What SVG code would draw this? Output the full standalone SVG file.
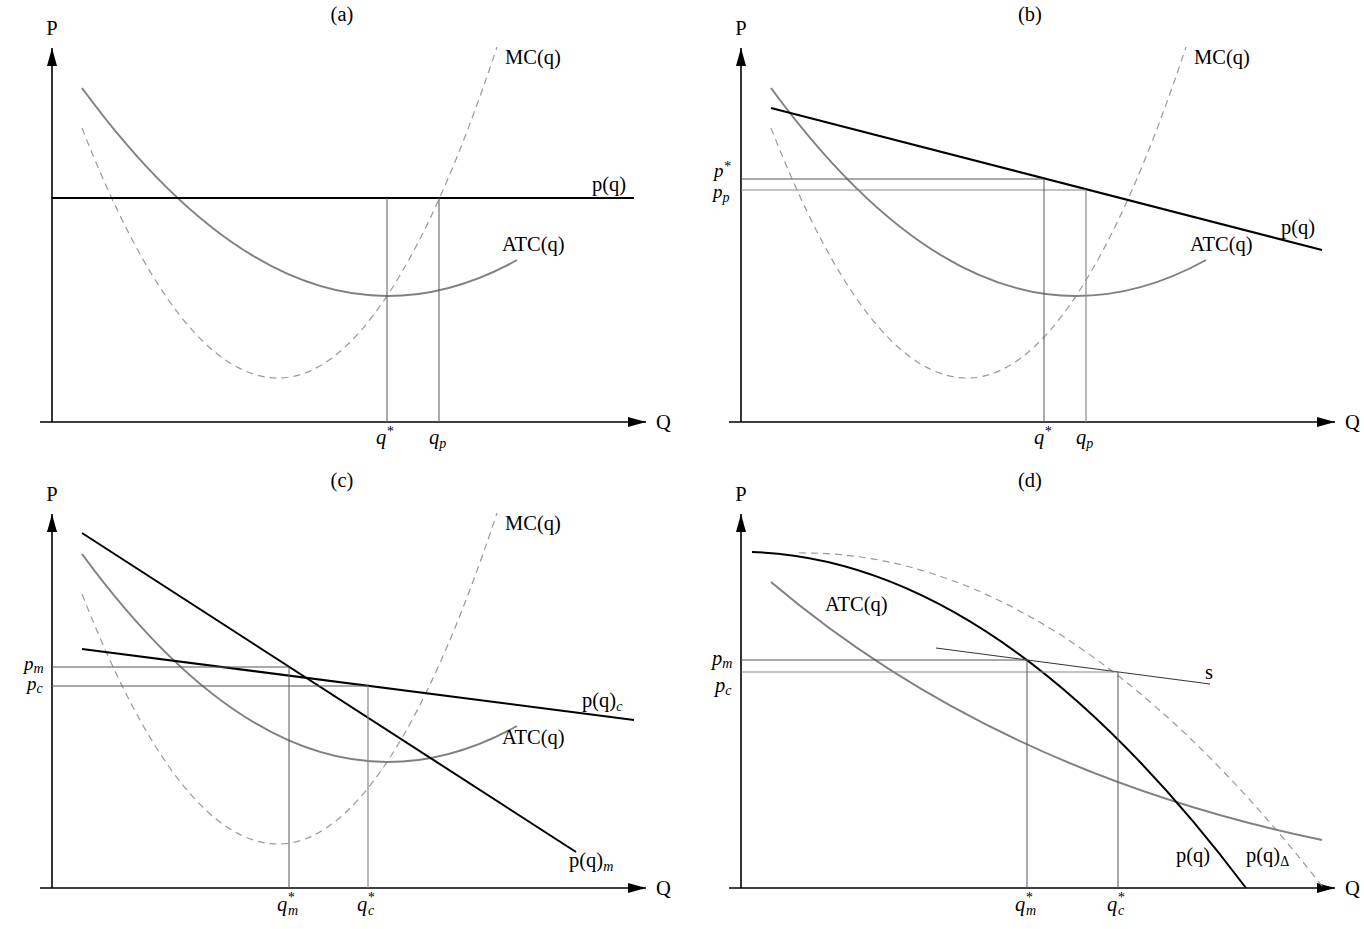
<svg xmlns="http://www.w3.org/2000/svg" width="1364" height="929" viewBox="0 0 1364 929">
<style>
text{font-family:"Liberation Serif","Times New Roman",serif;font-size:20.5px;fill:#000}
.m{font-style:italic}
.s{font-size:14px}
.pl{font-size:19px}
.ax{stroke:#000;stroke-width:1.6;fill:none}
.pr{stroke:#000;stroke-width:2;fill:none}
.atc{stroke:#808080;stroke-width:2;fill:none}
.mc{stroke:#999;stroke-width:1.2;fill:none;stroke-dasharray:7 5}
.g1{stroke:#555;stroke-width:1;fill:none}
.g2{stroke:#888;stroke-width:1.2;fill:none}
.thin{stroke:#333;stroke-width:1;fill:none}
</style>
<defs>
<marker id="arr" markerUnits="userSpaceOnUse" markerWidth="18" markerHeight="10" refX="18" refY="5" orient="auto">
<path d="M0,0 L18,5 L0,10 z" fill="#000"/>
</marker>
</defs>
<rect width="1364" height="929" fill="#fff"/>

<g id="panel-a">
<text x="342" y="21" text-anchor="middle">(a)</text>
<text x="52" y="35" text-anchor="middle">P</text>
<text x="656" y="429">Q</text>
<line class="ax" x1="52" y1="422" x2="52" y2="48" marker-end="url(#arr)"/>
<line class="ax" x1="40" y1="422" x2="646" y2="422" marker-end="url(#arr)"/>
<path class="mc" d="M82 128 Q180 378 278 378 Q387.5 378 497 47"/>
<path class="atc" d="M82 88 Q234.5 296 387 296 Q452 296 517 260"/>
<line class="pr" x1="52" y1="198" x2="634" y2="198"/>
<line class="g1" x1="387" y1="198" x2="387" y2="422"/>
<line class="g1" x1="439" y1="198" x2="439" y2="422"/>
<text x="505" y="64">MC(q)</text>
<text x="592" y="191">p(q)</text>
<text x="502" y="251">ATC(q)</text>
<text class="m" x="376" y="444">q<tspan class="s" dy="-8">*</tspan></text>
<text class="m" x="429" y="444">q<tspan class="s" dy="4">p</tspan></text>
</g>

<g id="panel-b">
<text x="1030" y="21" text-anchor="middle">(b)</text>
<text x="741" y="35" text-anchor="middle">P</text>
<text x="1345" y="429">Q</text>
<line class="ax" x1="741" y1="422" x2="741" y2="48" marker-end="url(#arr)"/>
<line class="ax" x1="729" y1="422" x2="1335" y2="422" marker-end="url(#arr)"/>
<path class="mc" d="M771 128 Q869 378 967 378 Q1076.5 378 1186 47"/>
<path class="atc" d="M771 88 Q923.5 296 1076 296 Q1141 296 1206 260"/>
<line class="pr" x1="771" y1="108" x2="1322" y2="250"/>
<line class="g1" x1="741" y1="179" x2="1044" y2="179"/>
<line class="g2" x1="741" y1="190" x2="1086" y2="190"/>
<line class="g1" x1="1044" y1="179" x2="1044" y2="422"/>
<line class="g2" x1="1086" y1="190" x2="1086" y2="422"/>
<text x="1194" y="64">MC(q)</text>
<text x="1281" y="234">p(q)</text>
<text x="1190" y="251">ATC(q)</text>
<text class="m pl" x="714" y="177">p<tspan class="s" dy="-6">*</tspan></text>
<text class="m pl" x="713" y="198">p<tspan class="s" dy="4">p</tspan></text>
<text class="m" x="1034" y="444">q<tspan class="s" dy="-8">*</tspan></text>
<text class="m" x="1076" y="444">q<tspan class="s" dy="4">p</tspan></text>
</g>

<g id="panel-c">
<text x="342" y="487" text-anchor="middle">(c)</text>
<text x="52" y="501" text-anchor="middle">P</text>
<text x="656" y="895">Q</text>
<line class="ax" x1="52" y1="888" x2="52" y2="514" marker-end="url(#arr)"/>
<line class="ax" x1="40" y1="888" x2="646" y2="888" marker-end="url(#arr)"/>
<path class="mc" d="M82 594 Q180 844 278 844 Q387.5 844 497 513"/>
<path class="atc" d="M82 554 Q234.5 762 387 762 Q452 762 517 726"/>
<line class="pr" x1="82" y1="533" x2="576" y2="852"/>
<line class="pr" x1="82" y1="649" x2="634" y2="720"/>
<line class="g1" x1="52" y1="667" x2="289" y2="667"/>
<line class="g1" x1="52" y1="686" x2="368" y2="686"/>
<line class="g1" x1="289" y1="667" x2="289" y2="888"/>
<line class="g2" x1="368" y1="686" x2="368" y2="888"/>
<text x="505" y="530">MC(q)</text>
<text x="582" y="707">p(q)<tspan class="m s" dy="4">c</tspan></text>
<text x="502" y="744">ATC(q)</text>
<text x="569" y="867">p(q)<tspan class="m s" dy="4">m</tspan></text>
<text class="m pl" x="24" y="670">p<tspan class="s" dy="3">m</tspan></text>
<text class="m pl" x="27" y="690">p<tspan class="s" dy="3">c</tspan></text>
<text class="m" x="277" y="911">q<tspan class="s" dy="-9">*</tspan><tspan class="s" x="288" dy="13">m</tspan></text>
<text class="m" x="357" y="911">q<tspan class="s" dy="-9">*</tspan><tspan class="s" x="368" dy="13">c</tspan></text>
</g>

<g id="panel-d">
<text x="1030" y="487" text-anchor="middle">(d)</text>
<text x="741" y="501" text-anchor="middle">P</text>
<text x="1345" y="895">Q</text>
<line class="ax" x1="741" y1="888" x2="741" y2="514" marker-end="url(#arr)"/>
<line class="ax" x1="729" y1="888" x2="1335" y2="888" marker-end="url(#arr)"/>
<path class="mc" d="M799 553 Q1060 550 1322 886"/>
<path class="atc" d="M771 582 Q995 772 1322 840"/>
<path class="pr" d="M752 552 Q999 560 1246 888"/>
<line class="thin" x1="936" y1="648" x2="1210" y2="684"/>
<line class="g1" x1="741" y1="660" x2="1027" y2="660"/>
<line class="g2" x1="741" y1="672" x2="1118" y2="672"/>
<line class="g1" x1="1027" y1="660" x2="1027" y2="888"/>
<line class="g1" x1="1118" y1="672" x2="1118" y2="888"/>
<text x="825" y="611">ATC(q)</text>
<text x="1205" y="679">s</text>
<text x="1176" y="862">p(q)</text>
<text x="1246" y="862">p(q)<tspan class="s" dy="4">Δ</tspan></text>
<text class="m" x="712" y="665">p<tspan class="s" dy="3">m</tspan></text>
<text class="m" x="715" y="692">p<tspan class="s" dy="3">c</tspan></text>
<text class="m" x="1015" y="911">q<tspan class="s" dy="-9">*</tspan><tspan class="s" x="1026" dy="13">m</tspan></text>
<text class="m" x="1107" y="911">q<tspan class="s" dy="-9">*</tspan><tspan class="s" x="1118" dy="13">c</tspan></text>
</g>
</svg>
